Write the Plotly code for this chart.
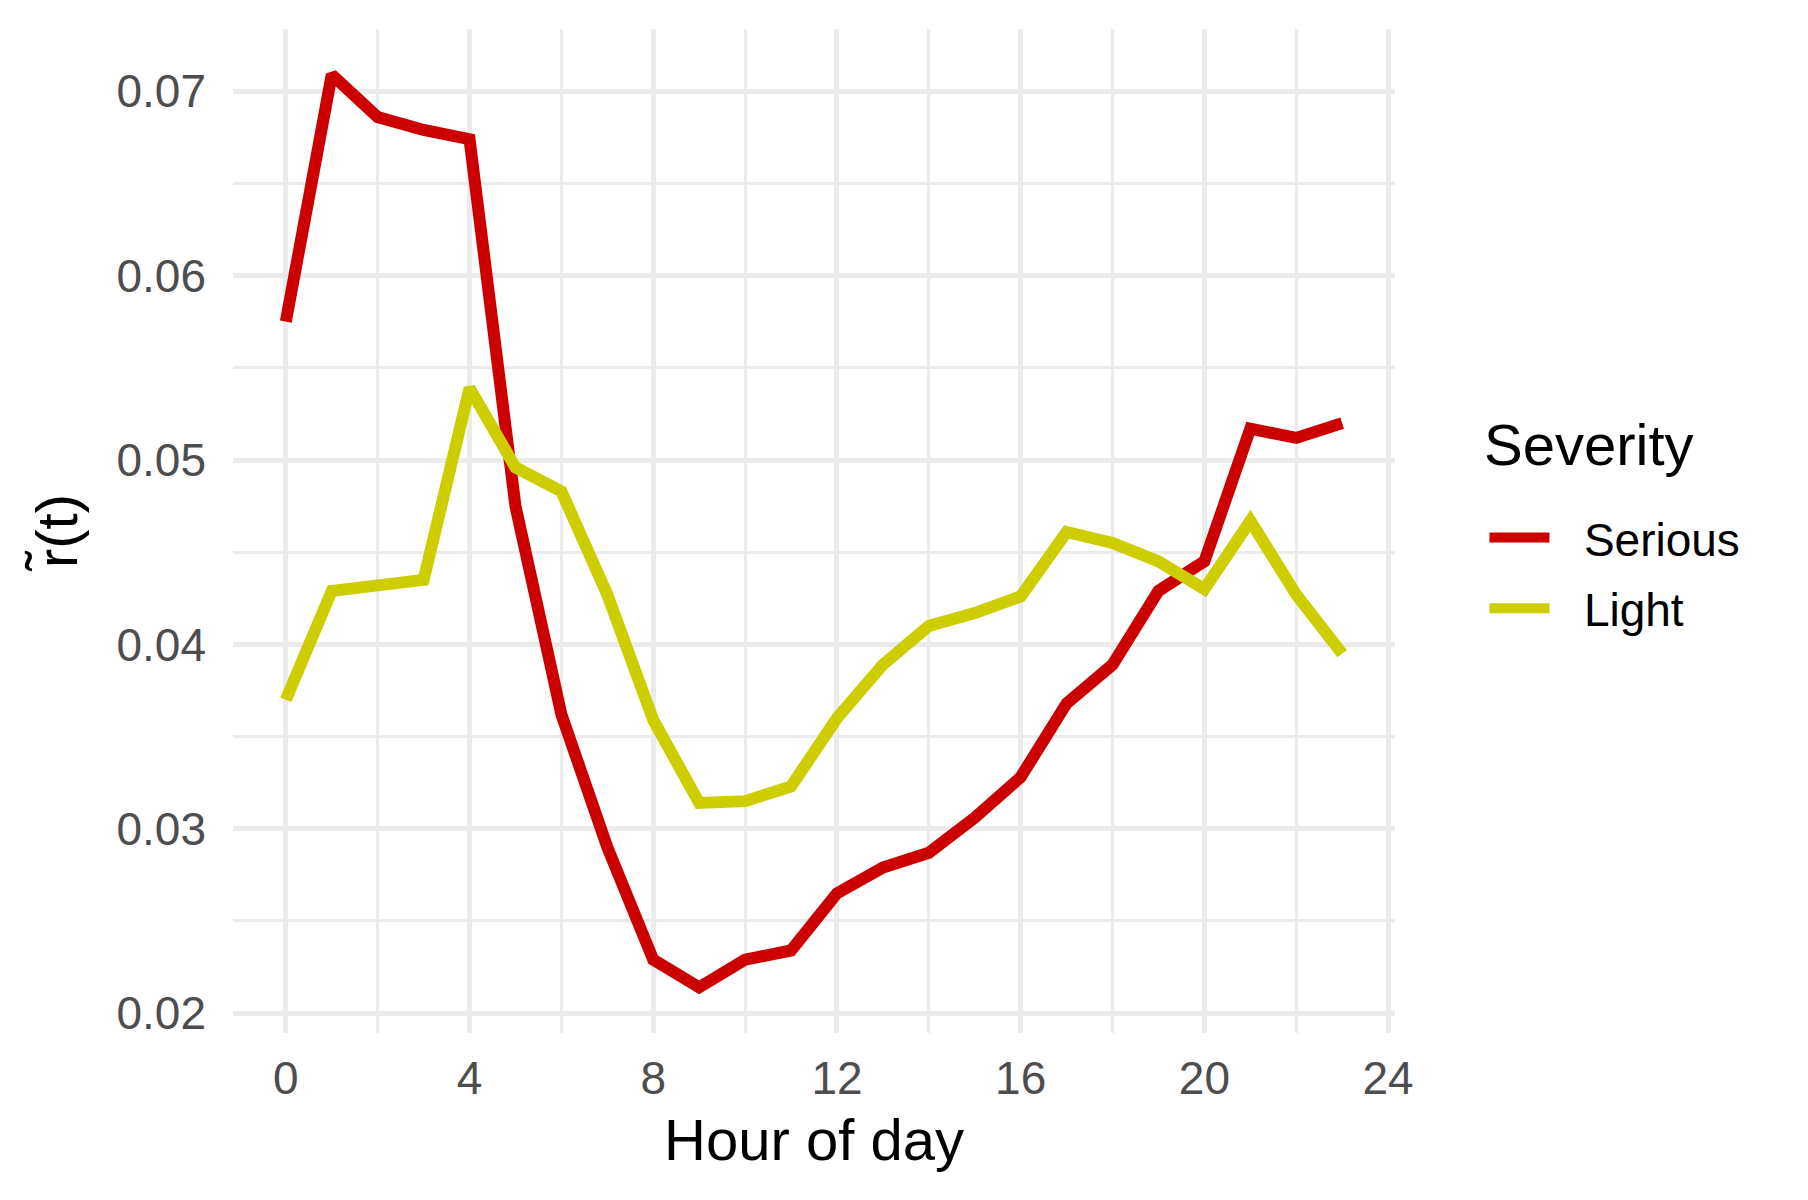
import plotly.graph_objects as go

# hourly values
hours = list(range(24))
serious = [0.0575, 0.0709, 0.0686, 0.0679, 0.0674, 0.0475, 0.0362, 0.0290,
           0.0229, 0.0214, 0.0229, 0.0234, 0.0265, 0.0279, 0.0287, 0.0306,
           0.0328, 0.0368, 0.0389, 0.0429, 0.0445, 0.0517, 0.0512, 0.0520]
light = [0.0370, 0.0429, 0.0432, 0.0435, 0.0539, 0.0496, 0.0483, 0.0427,
         0.0359, 0.0314, 0.0315, 0.0323, 0.0360, 0.0389, 0.0410, 0.0417,
         0.0426, 0.0461, 0.0455, 0.0445, 0.0430, 0.0467, 0.0427, 0.0395]
x_ticks = [0, 4, 8, 12, 16, 20, 24]
y_ticks = [0.02, 0.03, 0.04, 0.05, 0.06, 0.07]

FONT = "Liberation Sans, Arial, sans-serif"
GRID = "#EBEBEB"
PAD = "\u00a0\u00a0\u200a"  # space between legend key and label

fig = go.Figure()
fig.add_trace(go.Scatter(x=hours, y=serious, mode="lines", name=PAD + "Serious",
                         legendgroup="s",
                         line=dict(color="#CD0000", width=12)))
fig.add_trace(go.Scatter(x=hours, y=light, mode="lines", name=PAD + "Light",
                         legendgroup="l",
                         line=dict(color="#CDCD00", width=12)))

# ggplot style 5% expansion
xr = max(hours) - min(hours)
lo = min(min(serious), min(light))
hi = max(max(serious), max(light))
yr = hi - lo

fig.update_xaxes(
    range=[min(hours) - 0.05 * xr, max(hours) + 0.05 * xr],
    tickvals=x_ticks, ticktext=[str(v) for v in x_ticks],
    showgrid=True, gridcolor=GRID, gridwidth=4.5,
    minor=dict(dtick=2, tick0=0, showgrid=True, gridcolor=GRID, gridwidth=2.5),
    zeroline=False, showline=False, ticks="", ticklabelstandoff=14,
    tickfont=dict(family=FONT, size=46, color="#4D4D4D"),
    title=dict(text="Hour of day", font=dict(family=FONT, size=58, color="black"),
               standoff=16),
)
fig.update_yaxes(
    range=[lo - 0.05 * yr, hi + 0.05 * yr],
    tickvals=y_ticks, ticktext=[f"{v:.2f}" for v in y_ticks],
    showgrid=True, gridcolor=GRID, gridwidth=4.5,
    minor=dict(dtick=0.005, tick0=0.02, showgrid=True, gridcolor=GRID, gridwidth=2.5),
    zeroline=False, showline=False, ticks="", ticklabelstandoff=26,
    tickfont=dict(family=FONT, size=46, color="#4D4D4D"),
    title=dict(text="r\u0303(t)", font=dict(family=FONT, size=58, color="black"),
               standoff=20),
)

# legend title placed as a separate label to get the ggplot spacing
fig.add_annotation(
    text="Severity", xref="paper", yref="paper", x=1.0745, y=0.5857,
    xanchor="left", yanchor="middle", showarrow=False,
    font=dict(family=FONT, size=58, color="black"),
)

fig.update_layout(
    width=1808, height=1200,
    margin=dict(l=225, r=421, t=21, b=175),
    plot_bgcolor="white", paper_bgcolor="white",
    font=dict(family=FONT),
    legend=dict(
        font=dict(family=FONT, size=46, color="black"),
        x=1.077, xanchor="left", y=0.458, yanchor="middle",
        tracegroupgap=8, itemwidth=60,
        bgcolor="rgba(0,0,0,0)",
    ),
)

fig.write_html("out.html")
